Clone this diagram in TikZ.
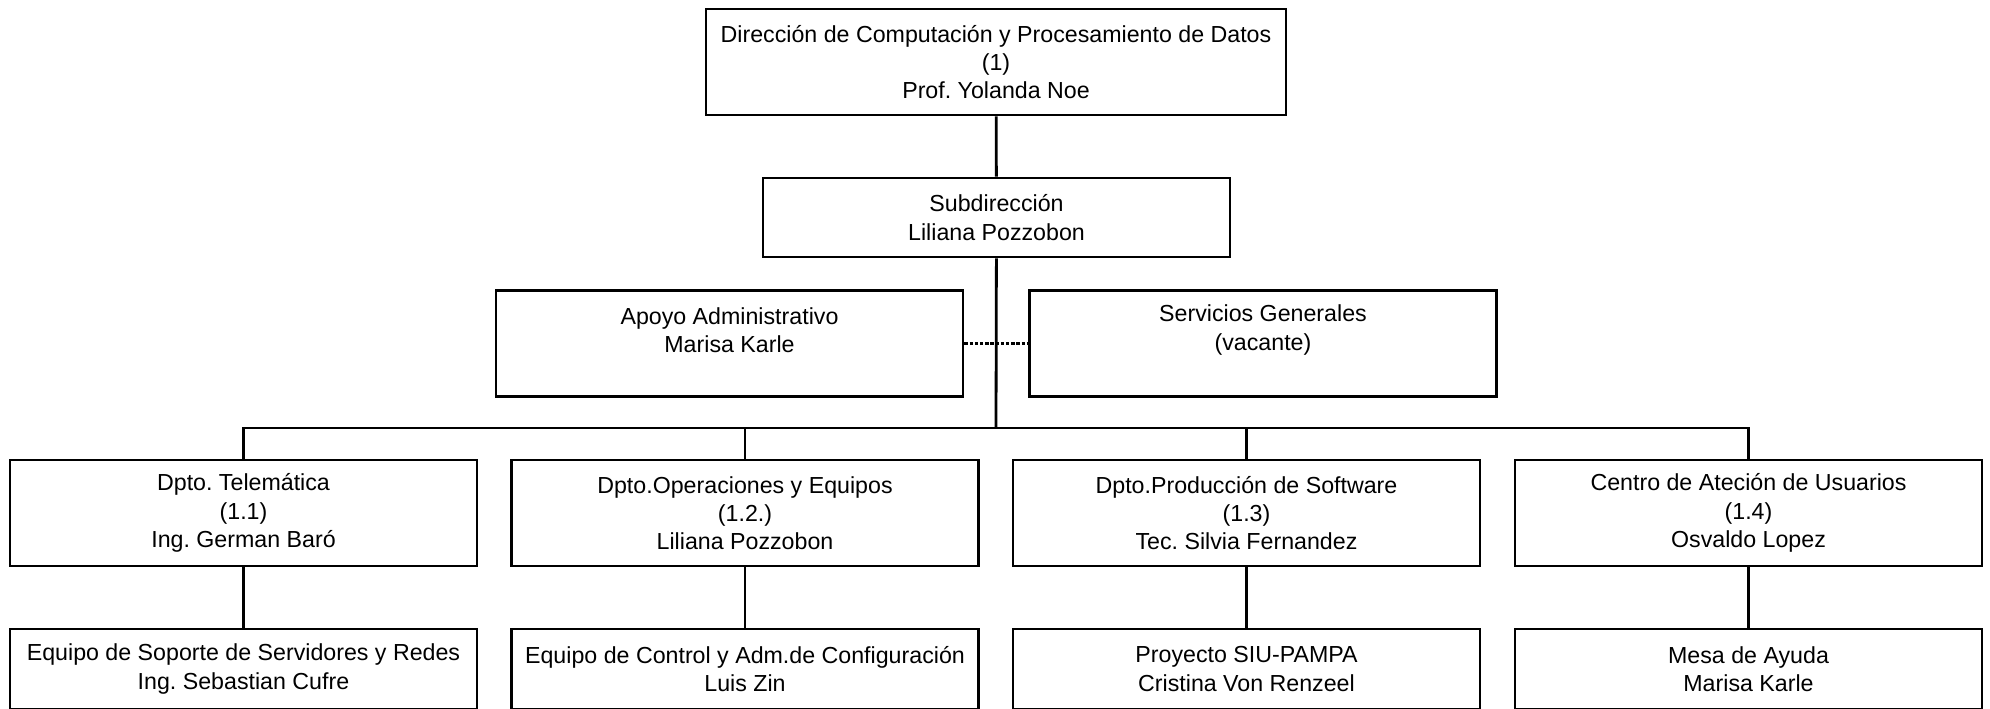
\documentclass[tikz,border=0pt]{standalone}
\usepackage{fontspec}
\setmainfont{Liberation Sans}
\usetikzlibrary{positioning,calc}
\frenchspacing

\begin{document}
\begin{tikzpicture}[x=0.5pt,y=-0.5pt,
        box/.style={draw, line width=1.4pt, align=center, inner sep=0pt,
            minimum width=233.5pt, minimum height=53pt,
            font=\fontsize{11.6}{14.1}\selectfont},
        txt/.style={align=center, inner sep=0pt, font=\fontsize{11.6}{14.1}\selectfont},
        link/.style={line width=1.4pt}]
        % Frame
        \useasboundingbox (0,0) rectangle (1990,708);

        % Direccion
        \node[box, minimum width=290pt] (dir) at (996,62) {Dirección de Computación y Procesamiento de Datos\\(1)\\Prof. Yolanda Noe};
        \node[box, minimum height=39.5pt] (sub) at (996.5,217.5) {Subdirección\\Liliana Pozzobon};

        % Staff
        \node[box] (apoyo) at (729.5,343.5) {};
        \node[txt] (apoyo-t) at (729.5,330) {Apoyo Administrativo\\Marisa Karle};
        \node[box] (serv) at (1263,343.5) {};
        \node[txt] (serv-t) at (1263,330) {Servicios Generales\\(vacante)};

        % Departamentos
        \node[box] (tel) at (243.5,513) {Dpto. Telemática\\(1.1)\\Ing. German Baró};
        \node[box] (ope) at (745,513) {Dpto.Operaciones y Equipos\\(1.2.)\\Liliana Pozzobon};
        \node[box] (prod) at (1246.5,513) {Dpto.Producción de Software\\(1.3)\\Tec. Silvia Fernandez};
        \node[box] (cau) at (1748.5,513) {Centro de Ateción de Usuarios\\(1.4)\\Osvaldo Lopez};

        % Equipos
        \node[box, minimum height=40pt] (redes) at (243.5,669) {Equipo de Soporte de Servidores y Redes\\Ing. Sebastian Cufre};
        \node[box, minimum height=40pt] (conf) at (745,669) {Equipo de Control y Adm.de Configuración\\Luis Zin};
        \node[box, minimum height=40pt] (pampa) at (1246.5,669) {Proyecto SIU-PAMPA\\Cristina Von Renzeel};
        \node[box, minimum height=40pt] (mesa) at (1748.5,669) {Mesa de Ayuda\\Marisa Karle};

        % Lines
        \coordinate (bus) at (996,428);
        \draw[link] (dir) -- (sub);
        \draw[link] (sub) -- (bus);
        \draw[link] (tel.north) |- (bus) -| (cau.north);
        \draw[link] (ope.north) -- (ope.north |- bus);
        \draw[link] (prod.north) -- (prod.north |- bus);
        \draw[link, dash pattern=on 1.7pt off 0.9pt] (apoyo) -- (serv);

        \draw[link] (tel) -- (redes);
        \draw[link] (ope) -- (conf);
        \draw[link] (prod) -- (pampa);
        \draw[link] (cau) -- (mesa);

    \end{tikzpicture}
\end{document}
